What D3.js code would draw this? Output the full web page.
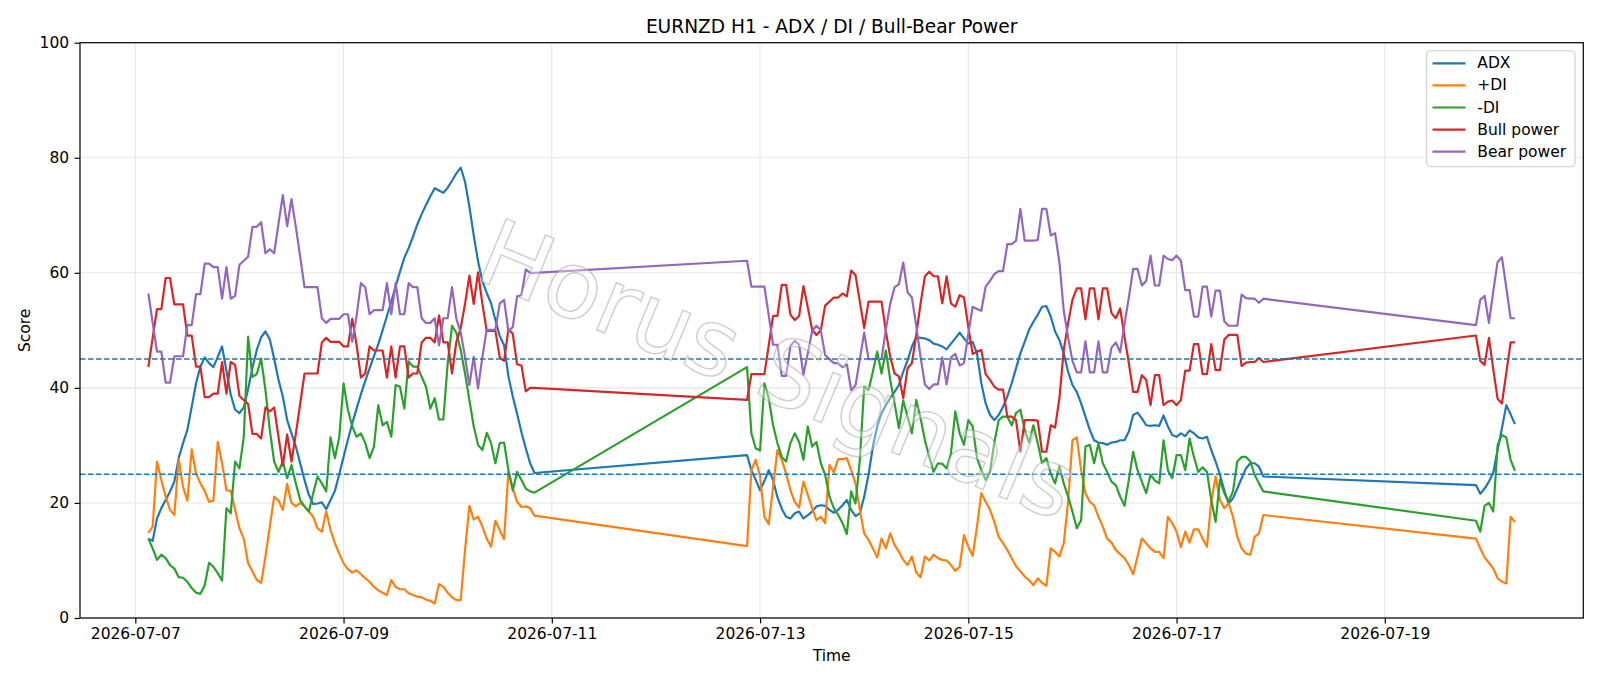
<!DOCTYPE html>
<html>
<head>
<meta charset="utf-8">
<script src="https://cdn.jsdelivr.net/npm/d3@7"></script>
<style>
  html, body { margin: 0; padding: 0; background: #fff; }
  svg { display: block; font-family: "DejaVu Sans", sans-serif; }
</style>
</head>
<body>
<main></main>
<script>
const width = 1600;
const height = 686;
const plotLeft = 80;
const plotRight = 1583.3;
const plotTop = 42.7;
const plotBottom = 618;
const fontSize = 15.5;

// hourly bars, three trading blocks (weekends skipped)
const segmentStarts = ['2026-07-07T03:00:00Z', '2026-07-12T21:00:00Z', '2026-07-19T21:00:00Z'];
const segmentHours = [90, 120, 10];

const xTickDates = ['2026-07-07', '2026-07-09', '2026-07-11', '2026-07-13', '2026-07-15', '2026-07-17', '2026-07-19'];
const yTicks = [0, 20, 40, 60, 80, 100];
const levels = [25, 45];

const seriesNames = ['ADX', '+DI', '-DI', 'Bull power', 'Bear power'];
const seriesColors = ['#1f77b4', '#ff7f0e', '#2ca02c', '#d62728', '#9467bd'];

const adx = [
  13.8,13.4,17.3,19.1,20.5,22.0,23.7,27.8,30.4,32.7,
  36.7,40.8,43.7,45.3,44.3,43.6,45.4,47.2,43.0,38.8,
  36.2,35.6,36.6,39.8,43.5,46.6,48.8,49.8,48.4,45.1,
  41.4,38.5,34.4,32.1,29.8,26.9,24.0,21.4,19.8,19.9,
  20.1,18.9,20.5,22.1,25.0,28.0,31.0,33.8,36.4,38.9,
  41.2,43.4,45.5,47.6,50.0,52.5,55.0,57.6,60.2,62.6,
  64.3,66.3,68.4,70.2,71.8,73.3,74.7,74.3,73.9,74.8,
  76.0,77.3,78.3,75.8,71.5,66.5,62.0,58.5,56.5,54.7,
  51.8,49.0,47.4,42.0,38.5,35.5,32.3,29.5,26.9,25.2,
  28.3,25.7,24.0,22.2,23.8,25.7,24.0,21.0,19.0,17.6,
  17.3,18.2,18.5,17.3,17.9,18.5,19.4,19.6,19.5,18.8,
  18.3,18.8,19.6,20.5,18.8,17.7,18.2,21.1,24.9,29.8,
  33.3,35.6,37.0,38.2,39.3,40.5,42.8,44.8,47.2,48.8,
  48.7,48.6,48.3,47.7,47.5,47.2,46.7,47.7,48.6,49.6,
  48.6,47.7,48.0,46.0,40.8,37.3,35.3,34.4,35.3,36.7,
  38.5,40.8,43.4,46.0,48.0,50.1,51.5,52.7,54.1,54.2,
  52.4,49.8,48.3,46.0,42.8,40.5,39.3,37.3,35.0,32.7,
  30.9,30.5,30.4,30.1,30.5,30.6,30.9,30.9,32.4,35.3,
  35.7,34.7,33.5,33.4,33.5,33.4,35.2,33.3,31.8,31.5,
  32.1,31.6,32.6,32.1,31.4,31.2,31.5,29.2,27.2,24.9,
  22.2,19.9,20.8,22.5,24.3,26.0,26.9,26.9,26.3,24.6,
  23.1,21.6,22.5,23.7,25.3,29.2,33.0,37.0,35.4,33.7
];

const plusDI = [
  14.8,15.9,27.2,24.0,21.1,18.8,17.9,27.6,22.8,20.4,
  29.3,25.1,23.4,22.1,20.2,20.4,30.6,26.9,22.2,22.1,
  18.8,15.6,13.8,9.5,8.1,6.6,6.1,10.7,15.9,21.1,
  20.4,18.8,23.3,20.0,19.4,20.0,19.4,18.5,17.6,15.6,
  15.0,18.5,15.3,13.0,11.2,9.5,8.5,7.9,8.3,7.6,
  6.9,6.3,5.4,4.8,4.4,4.0,6.6,5.4,5.0,5.0,
  4.3,4.0,3.7,3.6,3.2,3.0,2.5,5.9,5.4,4.4,
  3.6,3.1,3.1,11.8,19.5,17.1,17.6,15.9,13.8,12.4,
  16.9,15.3,13.7,25.5,22.5,20.2,19.3,19.4,19.1,17.8,
  12.5,25.7,27.5,24.6,17.6,16.3,22.8,29.2,27.5,25.1,
  22.2,20.2,19.2,23.7,21.4,19.1,17.0,17.6,16.5,26.6,
  25.3,27.6,27.6,27.8,25.7,23.4,18.8,14.7,13.6,12.1,
  10.5,13.8,12.1,14.7,12.7,11.5,10.1,9.2,10.7,7.9,
  7.1,10.7,10.0,11.0,10.4,10.1,10.0,9.2,8.2,8.9,
  14.4,12.4,10.8,15.9,21.7,20.2,18.8,16.7,14.1,13.0,
  11.8,10.4,9.0,8.1,7.2,6.6,5.7,6.9,6.1,5.6,
  12.1,11.5,10.7,13.0,20.2,30.9,31.4,25.7,21.7,20.2,
  19.6,17.6,15.9,13.8,13.1,11.8,11.1,10.4,9.2,7.6,
  10.7,13.8,13.0,12.1,11.5,11.5,10.4,17.6,16.5,15.0,
  12.3,15.0,13.1,15.4,15.4,13.8,12.4,20.2,24.6,20.5,
  19.1,19.9,17.6,14.1,12.1,11.2,11.0,14.1,14.7,17.9,
  13.8,12.1,10.5,9.6,8.6,6.9,6.3,6.0,17.6,16.7
];

const minusDI = [
  13.8,12.1,10.1,11.0,10.4,9.2,8.6,7.1,7.0,6.3,
  5.2,4.4,4.2,5.7,9.6,8.9,7.8,6.5,19.1,18.2,
  27.2,26.0,31.5,48.9,41.9,42.4,45.1,39.6,32.7,27.2,
  25.4,27.2,24.3,26.6,23.4,20.5,19.4,18.5,21.7,24.6,
  23.4,22.0,31.4,27.8,31.4,40.8,36.2,33.3,31.5,32.1,
  30.4,27.8,29.8,37.0,33.5,34.1,31.5,40.5,40.2,36.4,
  44.6,43.7,43.7,41.9,40.2,36.4,38.2,34.5,34.5,44.3,
  50.8,49.6,46.6,42.5,37.9,33.3,30.1,29.2,32.2,30.4,
  26.9,30.4,30.5,25.7,22.2,25.4,24.0,22.5,22.0,21.8,
  43.6,32.1,29.5,29.1,40.8,38.2,33.5,30.4,28.0,27.2,
  30.4,32.1,30.6,27.5,33.3,29.8,30.6,26.9,24.9,21.1,
  19.1,17.9,16.5,14.6,22.0,19.9,27.5,40.2,39.6,42.8,
  46.3,42.5,46.5,41.4,37.3,33.0,37.8,35.0,32.1,37.9,
  34.7,30.9,28.0,25.4,26.9,26.8,26.0,28.6,35.9,32.1,
  30.1,34.4,33.3,27.8,25.7,24.0,25.5,30.5,34.4,35.0,
  35.0,33.5,35.6,36.2,32.7,30.5,33.5,30.4,26.9,27.8,
  25.1,23.4,26.4,23.4,21.1,18.5,15.6,17.0,29.8,30.1,
  26.9,30.4,26.9,25.4,23.7,23.1,21.1,19.5,24.0,28.9,
  25.7,23.7,21.7,24.9,23.9,23.4,30.9,25.7,24.3,28.3,
  28.3,25.7,31.2,28.0,25.4,26.2,25.4,20.5,16.7,24.0,
  21.7,20.2,22.0,27.2,28.0,28.0,27.2,24.9,23.4,22.0,
  16.9,15.0,19.5,20.0,18.5,30.1,31.8,31.4,27.5,25.6
];

const bullPower = [
  43.6,48.7,53.7,53.7,59.1,59.1,54.5,54.5,54.5,49.1,
  49.1,43.7,43.7,38.4,38.4,39.0,39.0,44.5,39.0,44.5,
  44.0,38.6,37.9,37.2,32.0,32.0,31.2,36.6,35.9,36.6,
  31.5,26.5,31.9,27.2,32.0,37.2,42.5,42.5,42.5,42.5,
  47.9,48.7,48.0,48.0,48.0,47.2,47.2,52.0,47.5,41.8,
  42.5,47.2,46.5,46.5,46.5,41.8,47.2,41.8,47.2,47.2,
  41.8,42.5,42.5,47.9,48.7,48.7,47.9,52.6,47.9,47.9,
  42.5,48.0,50.4,54.6,59.5,54.6,60.1,54.6,49.9,49.9,
  49.9,45.3,44.7,50.2,49.4,44.1,43.9,39.4,40.0,40.0,
  37.9,42.4,42.4,42.4,42.4,47.4,52.5,52.5,57.9,57.9,
  52.7,51.8,52.5,57.7,54.0,50.1,49.2,50.0,54.3,55.0,
  55.7,55.7,56.4,55.9,60.4,59.6,55.0,50.4,55.0,55.0,
  55.0,55.0,49.8,45.4,42.5,42.0,38.2,43.4,44.3,49.2,
  54.7,59.4,60.2,59.4,59.4,54.7,59.4,54.7,54.1,56.1,
  55.7,50.6,45.9,46.3,46.6,42.4,41.4,40.2,39.7,39.7,
  35.0,35.0,34.4,28.9,34.4,34.4,34.4,34.3,28.9,28.9,
  33.5,33.1,38.2,46.6,51.2,55.3,57.3,57.3,51.9,57.3,
  57.3,51.9,57.3,57.3,53.0,52.1,53.8,48.9,44.3,39.3,
  39.3,42.2,41.4,37.0,42.2,42.2,37.0,37.6,37.8,37.0,
  37.9,43.0,43.0,47.6,47.6,42.4,42.4,47.6,43.1,43.1,
  48.4,49.2,49.2,49.2,43.8,44.4,44.5,44.5,45.2,44.5,
  49.1,44.7,44.0,48.7,43.2,38.1,37.3,42.6,47.9,47.9
];

const bearPower = [
  56.4,51.3,46.3,46.3,40.9,40.9,45.5,45.5,45.5,50.9,
  50.9,56.3,56.3,61.6,61.6,61.0,61.0,55.5,61.0,55.5,
  56.0,61.4,62.1,62.8,68.0,68.0,68.8,63.4,64.1,63.4,
  68.5,73.5,68.1,72.8,68.0,62.8,57.5,57.5,57.5,57.5,
  52.1,51.3,52.0,52.0,52.0,52.8,52.8,48.0,52.5,58.2,
  57.5,52.8,53.5,53.5,53.5,58.2,52.8,58.2,52.8,52.8,
  58.2,57.5,57.5,52.1,51.3,51.3,52.1,47.4,52.1,52.1,
  57.5,52.0,49.6,45.4,40.5,45.4,39.9,45.4,50.1,50.1,
  50.1,54.7,55.3,49.8,50.6,55.9,56.1,60.6,60.0,60.0,
  62.1,57.6,57.6,57.6,57.6,52.6,47.5,47.5,42.1,42.1,
  47.3,48.2,47.5,42.3,46.0,49.9,50.8,50.0,45.7,45.0,
  44.3,44.3,43.6,44.1,39.6,40.4,45.0,49.6,45.0,45.0,
  45.0,45.0,50.2,54.6,57.5,58.0,61.8,56.6,55.7,50.8,
  45.3,40.6,39.8,40.6,40.6,45.3,40.6,45.3,45.9,43.9,
  44.3,49.4,54.1,53.7,53.4,57.6,58.6,59.8,60.3,60.3,
  65.0,65.0,65.6,71.1,65.6,65.6,65.6,65.7,71.1,71.1,
  66.5,66.9,61.8,53.4,48.8,44.7,42.7,42.7,48.1,42.7,
  42.7,48.1,42.7,42.7,47.0,47.9,46.2,51.1,55.7,60.7,
  60.7,57.8,58.6,63.0,57.8,57.8,63.0,62.4,62.2,63.0,
  62.1,57.0,57.0,52.4,52.4,57.6,57.6,52.4,56.9,56.9,
  51.6,50.8,50.8,50.8,56.2,55.6,55.5,55.5,54.8,55.5,
  50.9,55.3,56.0,51.3,56.8,61.9,62.7,57.4,52.1,52.1
];

const seriesValues = [adx, plusDI, minusDI, bullPower, bearPower];

let svg;

const buildTimes = () => {
  const times = [];
  segmentStarts.forEach((s, i) => {
    const start = new Date(s).getTime();
    for (let h = 0; h < segmentHours[i]; h++) times.push(new Date(start + h * 3600000));
  });
  return times;
};

const createSvg = () => {
  return d3.select('main')
           .append('svg')
           .attr('width', width)
           .attr('height', height)
           .style('background', '#fff');
};

const createScales = (times) => {
  const t0 = d3.min(times).getTime();
  const t1 = d3.max(times).getTime();
  const pad = (t1 - t0) * 0.05;
  const xScale = d3.scaleUtc()
                   .domain([new Date(t0 - pad), new Date(t1 + pad)])
                   .range([plotLeft, plotRight]);
  const yScale = d3.scaleLinear()
                   .domain([0, 100])
                   .range([plotBottom, plotTop]);
  return {xScale, yScale};
};

const createGrid = (scales) => {
  const grid = svg.append('g').attr('stroke', '#e6e6e6').attr('stroke-width', 1.1);
  grid.selectAll('.vgrid')
      .data(xTickDates)
      .enter()
      .append('line')
      .attr('x1', d => scales.xScale(new Date(d + 'T00:00:00Z')))
      .attr('x2', d => scales.xScale(new Date(d + 'T00:00:00Z')))
      .attr('y1', plotTop)
      .attr('y2', plotBottom);
  grid.selectAll('.hgrid')
      .data(yTicks)
      .enter()
      .append('line')
      .attr('x1', plotLeft)
      .attr('x2', plotRight)
      .attr('y1', d => scales.yScale(d))
      .attr('y2', d => scales.yScale(d));
};

const createLines = (times, scales) => {
  const line = d3.line()
                 .x((d, i) => scales.xScale(times[i]))
                 .y(d => scales.yScale(d));
  svg.append('g')
     .selectAll('path')
     .data(seriesValues)
     .enter()
     .append('path')
     .attr('d', d => line(d))
     .attr('fill', 'none')
     .attr('stroke', (d, i) => seriesColors[i])
     .attr('stroke-width', 2.2)
     .attr('stroke-linejoin', 'round');

  svg.append('g')
     .selectAll('line')
     .data(levels)
     .enter()
     .append('line')
     .attr('x1', plotLeft)
     .attr('x2', plotRight)
     .attr('y1', d => scales.yScale(d))
     .attr('y2', d => scales.yScale(d))
     .attr('stroke', '#1f77b4')
     .attr('stroke-width', 1.5)
     .attr('stroke-dasharray', '5.6,2.4');
};

const createAxis = (scales) => {
  const xAxis = svg.append('g')
     .attr('transform', 'translate(0,' + plotBottom + ')')
     .call(d3.axisBottom(scales.xScale)
             .tickValues(xTickDates.map(d => new Date(d + 'T00:00:00Z')))
             .tickFormat(d3.utcFormat('%Y-%m-%d'))
             .tickSize(5.4)
             .tickPadding(4.4));
  xAxis.attr('font-size', fontSize).attr('font-family', '"DejaVu Sans", sans-serif');
  xAxis.select('.domain').remove();
  xAxis.selectAll('line').attr('stroke-width', 1.2);

  const yAxis = svg.append('g')
     .attr('transform', 'translate(' + plotLeft + ',0)')
     .call(d3.axisLeft(scales.yScale)
             .tickValues(yTicks)
             .tickSize(5.4)
             .tickPadding(5.5));
  yAxis.attr('font-size', fontSize).attr('font-family', '"DejaVu Sans", sans-serif');
  yAxis.select('.domain').remove();
  yAxis.selectAll('line').attr('stroke-width', 1.2);

  svg.append('rect')
     .attr('x', plotLeft)
     .attr('y', plotTop)
     .attr('width', plotRight - plotLeft)
     .attr('height', plotBottom - plotTop)
     .attr('fill', 'none')
     .attr('stroke', '#000')
     .attr('stroke-width', 1.2);

  svg.append('text')
     .attr('x', (plotLeft + plotRight) / 2)
     .attr('y', 661)
     .attr('text-anchor', 'middle')
     .attr('font-size', fontSize)
     .text('Time');

  svg.append('text')
     .attr('transform', 'translate(30,' + (plotTop + plotBottom) / 2 + ') rotate(-90)')
     .attr('text-anchor', 'middle')
     .attr('font-size', fontSize)
     .text('Score');
};

const createTitle = () => {
  svg.append('text')
     .attr('x', (plotLeft + plotRight) / 2)
     .attr('y', 33)
     .attr('text-anchor', 'middle')
     .attr('font-size', 18.6)
     .text('EURNZD H1 - ADX / DI / Bull-Bear Power');
};

const createWatermark = () => {
  svg.append('text')
     .attr('transform', 'translate(778,370) rotate(22.5)')
     .attr('text-anchor', 'middle')
     .attr('dominant-baseline', 'central')
     .attr('font-size', 93)
     .attr('fill', 'rgba(255,255,255,0.35)')
     .attr('stroke', 'rgba(150,150,150,0.45)')
     .attr('stroke-width', 1.5)
     .text('Horus Signals');
};

const createLegend = () => {
  const legend = svg.append('g');
  legend.append('rect')
        .attr('x', 1426.7)
        .attr('y', 50.7)
        .attr('width', 148.3)
        .attr('height', 116)
        .attr('rx', 4)
        .attr('fill', 'rgba(255,255,255,0.8)')
        .attr('stroke', '#cccccc')
        .attr('stroke-width', 1.1);
  const rows = legend.selectAll('.row')
        .data(seriesNames)
        .enter()
        .append('g')
        .attr('transform', (d, i) => 'translate(0,' + (63.3 + i * 22.1) + ')');
  rows.append('line')
      .attr('x1', 1432.5)
      .attr('x2', 1465.5)
      .attr('stroke', (d, i) => seriesColors[i])
      .attr('stroke-width', 2.2);
  rows.append('text')
      .attr('x', 1477.3)
      .attr('dominant-baseline', 'central')
      .attr('font-size', fontSize)
      .text(d => d);
};

const driver = () => {
  const times = buildTimes();
  svg = createSvg();
  const scales = createScales(times);
  createGrid(scales);
  createLines(times, scales);
  createWatermark();
  createAxis(scales);
  createTitle();
  createLegend();
};

driver();
</script>
</body>
</html>
